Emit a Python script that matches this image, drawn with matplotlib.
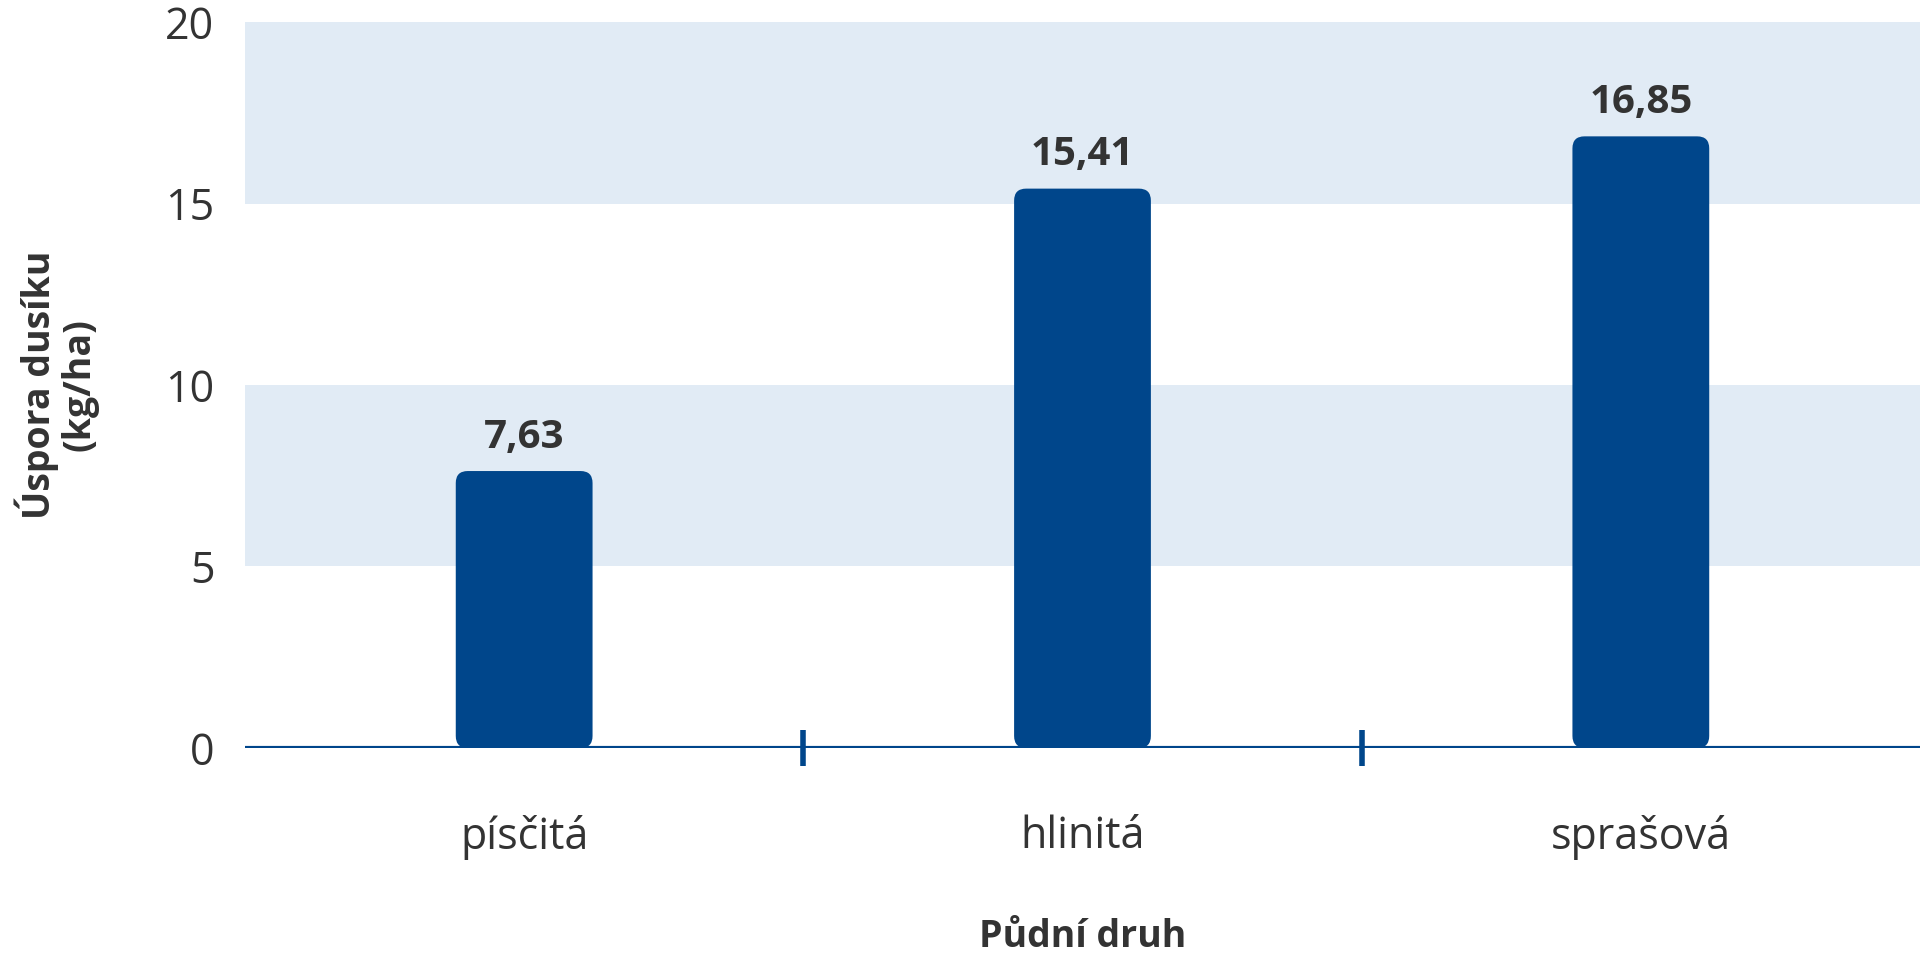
import matplotlib
matplotlib.use("Agg")
import matplotlib.pyplot as plt
from matplotlib.patches import FancyBboxPatch

categories = ["písčitá", "hlinitá", "sprašová"]
values = [7.63, 15.41, 16.85]
value_labels = ["7,63", "15,41", "16,85"]
yticks = [0, 5, 10, 15, 20]

BLUE = "#00468B"
BAND = "#E1EBF5"
TEXT = "#333333"

plt.rcParams['font.family'] = ['Open Sans', 'DejaVu Sans']

fig = plt.figure(figsize=(19.2, 9.57), dpi=100)
ax = fig.add_axes([0.1276, 0.2184, 0.8724, 0.7586])
ax.set_xlim(-0.5, 2.5)
ax.set_ylim(0, 20)

for lo, hi in [(5, 10), (15, 20)]:
    ax.axhspan(lo, hi, color=BAND, lw=0, zorder=0)

x = list(range(len(categories)))
bars = ax.bar(x, values, width=0.245, color=BLUE, zorder=2)

# convert bars to rounded rectangles
fig_w, fig_h = fig.get_size_inches() * fig.dpi
pos = ax.get_position()
px_per_x = pos.width * fig_w / 3.0
px_per_y = pos.height * fig_h / 20.0
aspect = px_per_x / px_per_y
r_px = 12
for b in bars:
    bx, by = b.get_x(), b.get_y()
    bw, bh = b.get_width(), b.get_height()
    rr = r_px / px_per_x
    p = FancyBboxPatch((bx, by), bw, bh,
                       boxstyle=f"round,pad=0,rounding_size={rr}",
                       mutation_aspect=aspect,
                       facecolor=BLUE, edgecolor="none", zorder=2)
    b.remove()
    ax.add_patch(p)

for xi, v, lab in zip(x, values, value_labels):
    ax.text(xi, v + 0.4, lab, ha="center", va="bottom", fontsize=29,
            fontweight="bold", color=TEXT, zorder=3)

ax.axhline(0, color=BLUE, lw=3, zorder=3)

for s in ax.spines.values():
    s.set_visible(False)

ax.set_yticks(yticks)
ax.set_yticklabels([str(t) for t in yticks])
ax.tick_params(axis="y", length=0, pad=22, labelsize=31, labelcolor=TEXT)

ax.set_xticks(x)
ax.set_xticklabels(categories)
ax.tick_params(axis="x", which="major", length=0, pad=48, labelsize=31, labelcolor=TEXT)
ax.set_xticks([0.5, 1.5], minor=True)
ax.tick_params(axis="x", which="minor", direction="inout", length=26, width=4,
               color=BLUE)

ax.set_xlabel("Půdní druh", fontsize=27, fontweight="bold", color=TEXT, labelpad=42)
ax.set_ylabel("Úspora dusíku\n(kg/ha)", fontsize=27, fontweight="bold", color=TEXT,
              labelpad=48, linespacing=1.05)

fig.savefig("out.png", dpi=100, facecolor="white")
